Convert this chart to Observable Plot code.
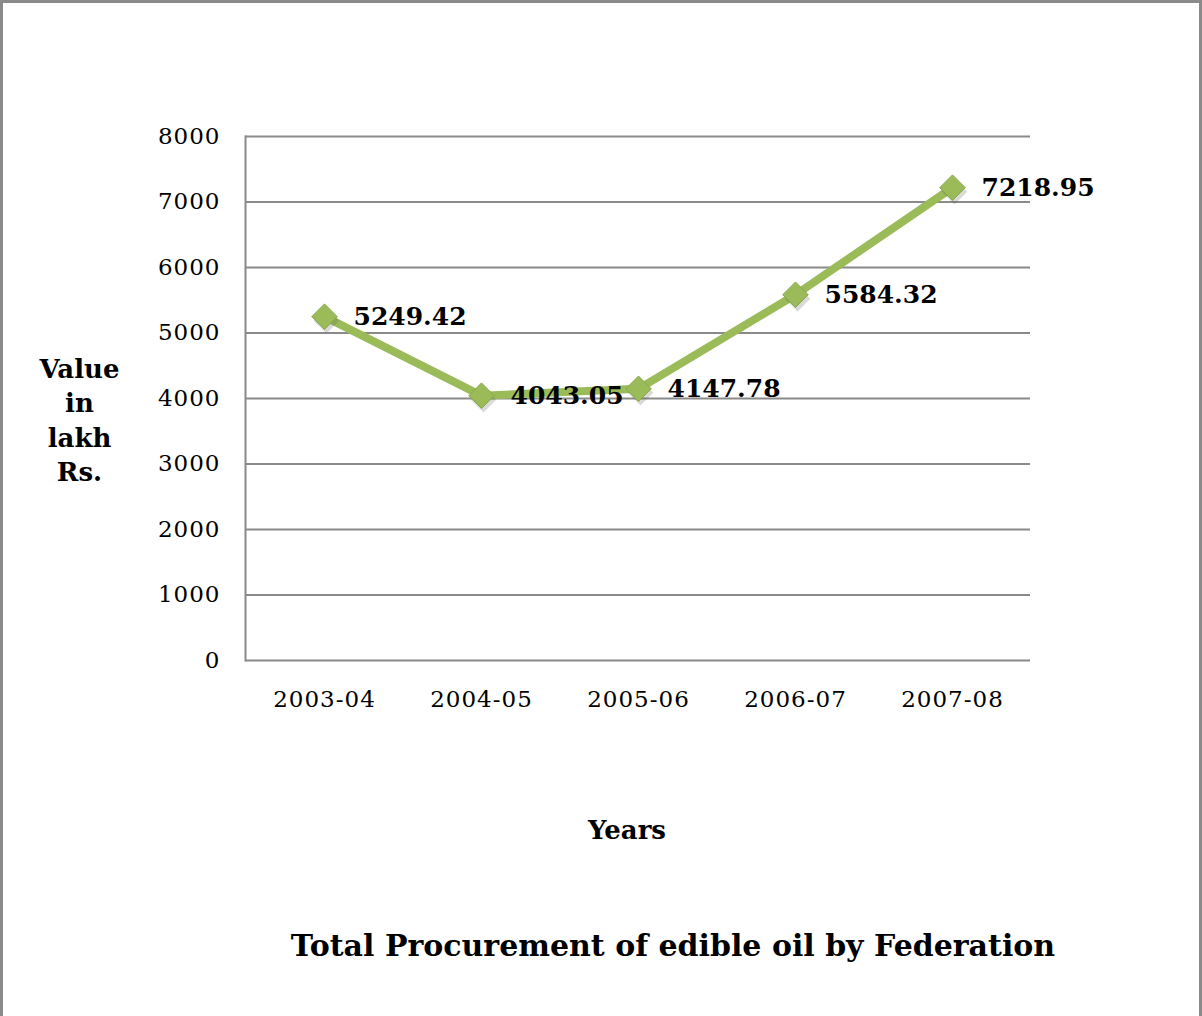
<!DOCTYPE html>
<html>
<head>
<meta charset="utf-8">
<script src="https://cdn.jsdelivr.net/npm/d3@7"></script>
<script src="https://cdn.jsdelivr.net/npm/@observablehq/plot@0.6"></script>
<style>
  html, body { margin: 0; padding: 0; background: #fff; }
  #wrap {
    position: relative; width: 1202px; height: 1016px; box-sizing: border-box;
    border: 3px solid #8a8a8a; border-bottom: none; overflow: hidden;
    font-family: "DejaVu Serif", serif;
  }
  #chart { position: absolute; left: 0; top: 0; }
  #title {
    position: absolute; left: 0; top: 925px; width: 1340px; text-align: center;
    font-weight: bold; font-size: 30px; color: #000; font-family: "DejaVu Serif", serif;
  }
</style>
</head>
<body>
<div id="wrap">
  <div id="chart"></div>
  <div id="title">Total Procurement of edible oil by Federation</div>
</div>
<script>
const years = ["2003-04", "2004-05", "2005-06", "2006-07", "2007-08"];
const values = [5249.42, 4043.05, 4147.78, 5584.32, 7218.95];
const valueLabels = ["5249.42", "4043.05", "4147.78", "5584.32", "7218.95"];
const yTicks = [0, 1000, 2000, 3000, 4000, 5000, 6000, 7000, 8000];

const data = years.map((y, i) => ({year: y, value: values[i], label: valueLabels[i]}));
const green = "#9bbb59";

const chart = Plot.plot({
  width: 1196,
  height: 900,
  marginLeft: 242,
  marginRight: 169,
  marginTop: 133,
  marginBottom: 243,
  style: {fontFamily: "DejaVu Serif, serif", background: "transparent", overflow: "visible"},
  x: {type: "point", domain: years, padding: 0.5},
  y: {domain: [0, 8000]},
  marks: [
    Plot.gridY(yTicks, {stroke: "#8a8a8a", strokeOpacity: 1, strokeWidth: 2}),
    Plot.frame({anchor: "left", stroke: "#8a8a8a", strokeWidth: 2}),
    Plot.axisY(yTicks, {tickSize: 0, tickPadding: 25, fontSize: 23, label: null, tickFormat: d => String(d), fill: "#000"}),
    Plot.axisX(years, {tickSize: 0, tickPadding: 30, fontSize: 23, label: null, fill: "#000"}),
    Plot.line(data, {x: "year", y: "value", stroke: green, strokeWidth: 8, strokeLinejoin: "round"}),
    Plot.dot(data, {x: "year", y: "value", symbol: "diamond2", r: 11.5, fill: "#555", fillOpacity: 0.22, stroke: "none", dx: 2, dy: 4}),
    Plot.dot(data, {x: "year", y: "value", symbol: "diamond2", r: 11.5, fill: green, stroke: "#86a84a", strokeWidth: 1}),
    Plot.text(data, {x: "year", y: "value", text: "label", dx: 29, textAnchor: "start", fontSize: 25, fontWeight: "bold", fill: "#000"}),
    Plot.text(["Value\nin\nlakh\nRs."], {frameAnchor: "left", dx: -166, dy: 20, textAnchor: "middle", fontSize: 26, fontWeight: "bold", lineHeight: 1.32, fill: "#000"}),
    Plot.text(["Years"], {frameAnchor: "bottom", dx: -11, dy: 178, fontSize: 26, fontWeight: "bold", fill: "#000"})
  ]
});
chart.querySelectorAll("g[aria-label='y-axis tick label'] text, g[aria-label='x-axis tick label'] text").forEach(t => t.setAttribute("letter-spacing", "1"));
document.getElementById("chart").appendChild(chart);
</script>
</body>
</html>
